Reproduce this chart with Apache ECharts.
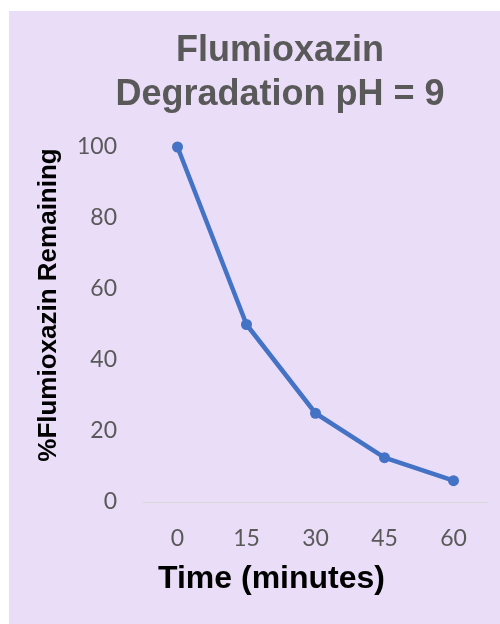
<!DOCTYPE html>
<html>
<head>
<meta charset="utf-8">
<script src="https://cdn.jsdelivr.net/npm/echarts@6/dist/echarts.min.js"></script>
<style>
  html, body { margin: 0; padding: 0; background: #ffffff; }
  #main { width: 500px; height: 624px; }
</style>
</head>
<body>
<div id="main"></div>
<script>
// time points (minutes)
var times = ["0", "15", "30", "45", "60"];
// % flumioxazin remaining
var remaining = [100, 50, 25, 12.5, 6];
var yTicks = [0, 20, 40, 60, 80, 100];

var chartDom = document.getElementById("main");
var myChart = echarts.init(chartDom);

var option = {
  backgroundColor: "#ffffff",
  animation: false,
  graphic: [
    {
      type: "rect",
      z: -10,
      shape: { x: 9, y: 11, width: 491, height: 613 },
      style: { fill: "#e9ddf7" },
    },
  ],
  title: {
    text: "Flumioxazin\nDegradation pH = 9",
    left: 275,
    top: 24,
    textAlign: "center",
    textStyle: {
      fontFamily: "Liberation Sans",
      fontWeight: "bold",
      fontSize: 36,
      lineHeight: 44,
      color: "#595959",
    },
  },
  grid: {
    left: 143,
    right: 12,
    top: 147,
    bottom: 122,
  },
  xAxis: {
    type: "category",
    data: times,
    boundaryGap: true,
    axisLine: { lineStyle: { color: "#d9d9d9", width: 1 } },
    axisTick: { show: false },
    axisLabel: {
      margin: 25,
      fontFamily: "Lato",
      fontSize: 23,
      color: "#595959",
    },
    name: "Time (minutes)",
    nameLocation: "middle",
    nameGap: 61,
    nameTextStyle: {
      fontFamily: "Liberation Sans",
      fontWeight: "bold",
      fontSize: 32,
      color: "#000000",
      padding: [0, 88, 0, 0],
    },
  },
  yAxis: {
    type: "value",
    min: yTicks[0],
    max: yTicks[yTicks.length - 1],
    interval: 20,
    axisLine: { show: false },
    axisTick: { show: false },
    splitLine: { show: false },
    axisLabel: {
      margin: 26,
      fontFamily: "Lato",
      fontSize: 23,
      color: "#595959",
    },
    name: "%Flumioxazin Remaining",
    nameLocation: "middle",
    nameGap: 81,
    nameTextStyle: {
      fontFamily: "Liberation Sans",
      fontWeight: "bold",
      fontSize: 26,
      color: "#000000",
      padding: [0, 0, 0, 39],
    },
  },
  series: [
    {
      type: "line",
      data: remaining,
      symbol: "circle",
      symbolSize: 11,
      lineStyle: { color: "#4472c4", width: 4.5 },
      itemStyle: { color: "#4472c4" },
    },
  ],
};

myChart.setOption(option);
</script>
</body>
</html>
